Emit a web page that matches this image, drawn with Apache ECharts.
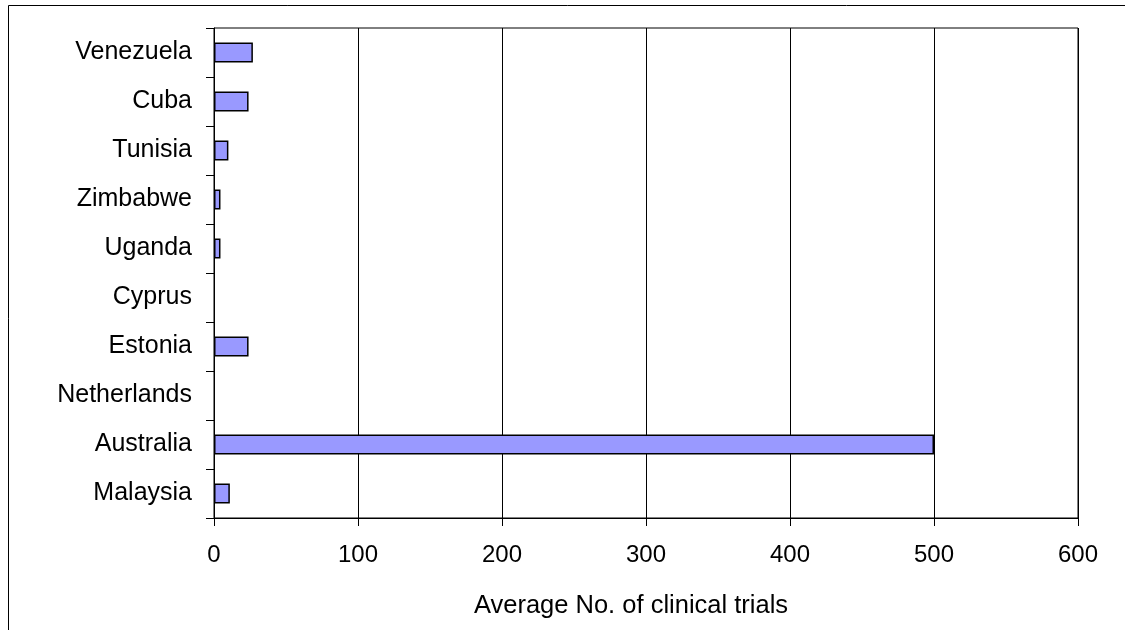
<!DOCTYPE html>
<html><head><meta charset="utf-8">
<script src="https://cdn.jsdelivr.net/npm/echarts@6/dist/echarts.min.js"></script>
<style>html,body{margin:0;padding:0;background:#fff}#c{width:1125px;height:630px}</style>
</head><body><div id="c"></div>
<script>
const categories = ["Venezuela","Cuba","Tunisia","Zimbabwe","Uganda","Cyprus","Estonia","Netherlands","Australia","Malaysia"];
const values = [27, 24, 10, 4.5, 4.5, 0, 24, 0, 500, 11];
const xTicks = [0,100,200,300,400,500,600];

const chart = echarts.init(document.getElementById('c'), null, {renderer:'canvas'});
chart.setOption({
  animation:false,
  backgroundColor:'#fff',
  graphic:[{type:'rect',shape:{x:8.5,y:5.5,width:1130,height:640},style:{fill:'none',stroke:'#000',lineWidth:1}}],
  grid:{left:214,right:47,top:28,bottom:112,show:true,borderColor:'#000',borderWidth:1},
  xAxis:{type:'value',min:0,max:600,interval:100,
    axisLine:{show:true,lineStyle:{color:'#000',width:1}},
    axisTick:{show:true,length:8,lineStyle:{color:'#000'}},
    splitLine:{show:true,lineStyle:{color:'#000',width:1}},
    axisLabel:{color:'#000',fontFamily:'Liberation Sans',fontSize:24,margin:25,
      formatter:v=>xTicks.includes(v)?String(v):''},
    name:'Average No. of clinical trials',nameLocation:'middle',nameGap:75,
    nameTextStyle:{color:'#000',fontFamily:'Liberation Sans',fontSize:25.5,padding:[0,30,0,0]}},
  yAxis:{type:'category',data:categories,inverse:true,
    axisLine:{show:true,lineStyle:{color:'#000',width:1}},
    axisTick:{show:true,length:8,lineStyle:{color:'#000'}},
    axisLabel:{color:'#000',fontFamily:'Liberation Sans',fontSize:25,margin:22}},
  series:[{type:'bar',barWidth:20,
    data:values.map(v=>v===0?{value:v,itemStyle:{borderWidth:0}}:v),
    itemStyle:{color:'#9999FF',borderColor:'#000',borderWidth:1.5}}]
});
</script></body></html>
